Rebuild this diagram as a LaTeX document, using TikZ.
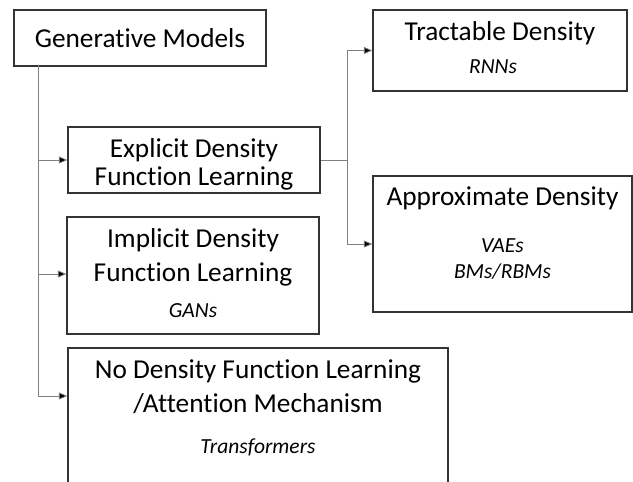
\documentclass[tikz,border=0pt]{standalone}
\usepackage{fontspec}
\setmainfont[Ligatures=NoCommon]{Carlito}
\usetikzlibrary{arrows.meta}
\begin{document}
\begin{tikzpicture}[x=1pt,y=-1pt,
  box/.style={draw=black!80,line width=1.3pt,inner sep=0pt,fill=white},
  head/.style={anchor=base,font=\fontsize{27.3}{32}\selectfont,text=black},
  sub/.style={anchor=base,font=\fontsize{21.5}{26}\selectfont\itshape,text=black},
  link/.style={draw=black!50,line width=0.8pt},
  arrow/.style={link,-{Triangle[length=8.5pt,width=7pt,fill=black]}}]
\clip (0,0) rectangle (633,482);
\fill[white] (0,0) rectangle (633,482);

% boxes
\node[box,minimum width=252pt,minimum height=56pt] (gen) at (140,38) {};
\node[box,minimum width=252pt,minimum height=66pt] (explicit) at (194,160) {};
\node[box,minimum width=252pt,minimum height=117pt] (implicit) at (193,275.5) {};
\node[box,minimum width=380pt,minimum height=200pt] (nodens) at (258,448) {};
\node[box,minimum width=254pt,minimum height=81pt] (tract) at (500,50.5) {};
\node[box,minimum width=259pt,minimum height=136pt] (approx) at (502.5,244) {};

% texts
\node[head] (tgen) at (140,47) {Generative Models};
\node[head] (texp1) at (194,157) {Explicit Density};
\node[head] (texp2) at (194,185) {Function Learning};
\node[head] (timp1) at (193,247) {Implicit Density};
\node[head] (timp2) at (193,281) {Function Learning};
\node[sub]  (timp3) at (193,317) {GANs};
\node[head] (tnod1) at (258,378) {No Density Function Learning};
\node[head] (tnod2) at (258,412) {/Attention Mechanism};
\node[sub]  (tnod3) at (258,453) {Transformers};
\node[head] (ttra1) at (500,40) {Tractable Density};
\node[sub]  (ttra2) at (493,73) {RNNs};
\node[head] (tapp1) at (502.5,205) {Approximate Density};
\node[sub]  (tapp2) at (502.5,252) {VAEs};
\node[sub]  (tapp3) at (502.5,278) {BMs/RBMs};

% trunk from the root box down the left side
\coordinate (trunk) at ([xshift=25pt,yshift=2pt]gen.south west);
\coordinate (nodin) at (nodens.west |- 0,396);
\draw[link] (trunk) -- (trunk |- nodin);
\draw[arrow] (trunk) |- (explicit.west);
\draw[arrow] (trunk) |- ([yshift=1.5pt]implicit.west);
\draw[arrow] (trunk) |- (nodin);

% split to the density kinds
\coordinate (split) at ([xshift=27pt]explicit.east);
\draw[link] (explicit.east) -- (split);
\draw[arrow] (split) |- (tract.west);
\draw[arrow] (split) |- (approx.west);
\end{tikzpicture}
\end{document}
